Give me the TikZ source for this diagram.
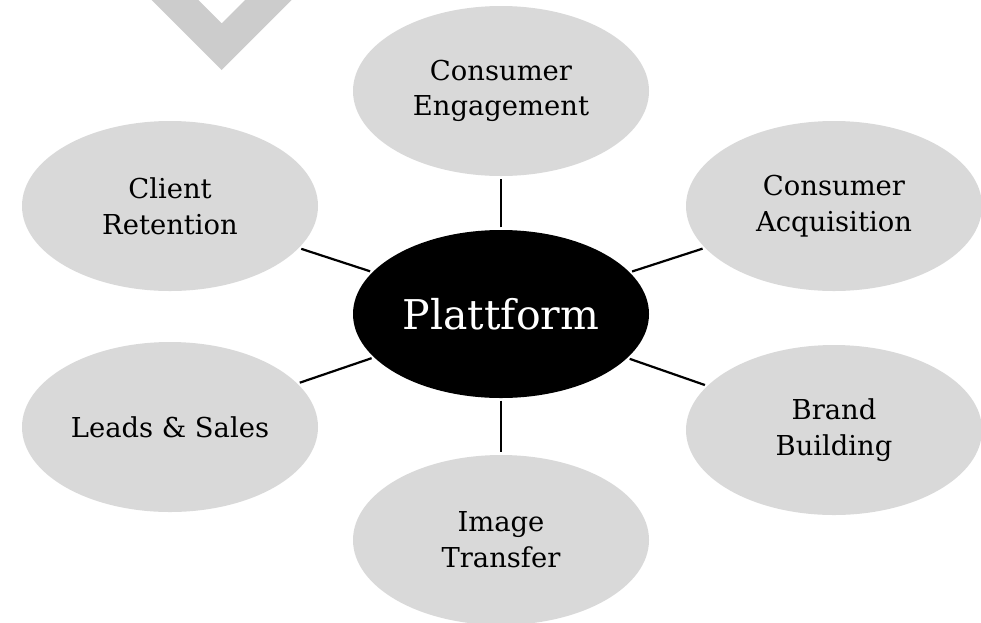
\documentclass[tikz,border=0pt]{standalone}
\usepackage{fontspec}
\setmainfont{DejaVu Serif}
\usetikzlibrary{shapes.geometric}
\definecolor{bubblegray}{HTML}{D9D9D9}
\definecolor{markgray}{HTML}{CCCCCC}
\tikzset{
  bubble/.style={ellipse, fill=bubblegray, draw=none, inner sep=0pt,
    minimum width=296pt, minimum height=170pt, align=center,
    font=\fontsize{27.4}{36}\selectfont},
  hub/.style={ellipse, fill=black, draw=none, inner sep=0pt,
    minimum width=296pt, minimum height=168pt, text=white,
    font=\fontsize{41}{48}\selectfont},
  spoke/.style={line width=2.2pt, black, shorten <=2.5pt, shorten >=2.5pt}
}
\begin{document}
\begin{tikzpicture}[x=1pt,y=-1pt]
\useasboundingbox (0,0) rectangle (981,622);
\clip (0,0) rectangle (981,622);
% watermark chevron
\fill[markgray] (151.7,0) -- (221.7,70) -- (291.7,0) -- (245,0) -- (221.7,23.3) -- (198.4,0) -- cycle;
% nodes
\node[hub] (P) at (501,314) {Plattform};
\node[bubble] (CE) at (501,91) {\raisebox{-4pt}{\begin{tabular}{@{}c@{}}Consumer\\[-1pt]Engagement\end{tabular}}};
\node[bubble] (CR) at (170,206) {Client\\Retention};
\node[bubble] (CA) at (834,206) {Consumer\\Acquisition};
\node[bubble] (LS) at (170,427) {Leads \& Sales};
\node[bubble] (BB) at (834,430) {Brand\\Building};
\node[bubble] (IT) at (501,540) {Image\\Transfer};
% connectors
\draw[spoke] (P) -- (CE);
\draw[spoke] (P) -- (CR);
\draw[spoke] (P) -- (CA);
\draw[spoke] (P) -- (LS);
\draw[spoke] (P) -- (BB);
\draw[spoke] (P) -- (IT);
\end{tikzpicture}
\end{document}
